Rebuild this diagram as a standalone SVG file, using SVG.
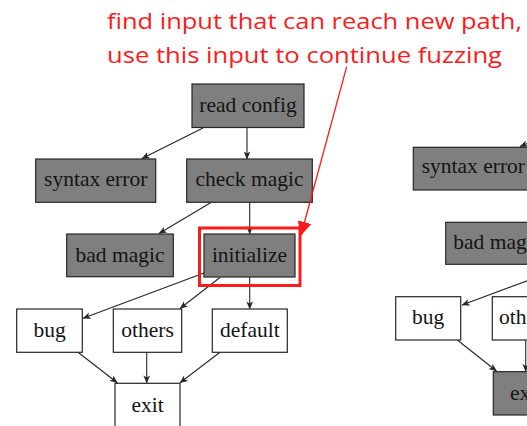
<svg xmlns="http://www.w3.org/2000/svg" width="527" height="426" viewBox="0 0 527 426">
  <style>
    .box rect { stroke: #262626; stroke-width: 1.2; }
    .dark rect { fill: #7f7f7f; }
    .light rect { fill: #ffffff; }
    .box text { font-family: "Liberation Serif", "Times New Roman", serif; font-size: 21.5px; fill: #141414; }
    .mid { text-anchor: middle; }
    .edge { stroke: #262626; stroke-width: 1.1; fill: none; marker-end: url(#arrow); }
    .note { font-family: "Open Sans", "Noto Sans", sans-serif; font-size: 22.5px; fill: #ff1a1a; }
  </style>
  <defs>
    <marker id="arrow" viewBox="0 0 10 10" refX="9.5" refY="5" markerWidth="8" markerHeight="8" markerUnits="userSpaceOnUse" orient="auto">
      <path d="M0,0.8 L10,5 L0,9.2 L2.6,5 Z" fill="#262626"/>
    </marker>
    <marker id="redArrow" viewBox="0 0 10 10" refX="9.5" refY="5" markerWidth="14" markerHeight="14" markerUnits="userSpaceOnUse" orient="auto">
      <path d="M0,0 L10,5 L0,10 Z" fill="#ff1a1a"/>
    </marker>
  </defs>

  <rect width="527" height="426" fill="#ffffff"/>

  <!-- connectors -->
  <g id="connectors">
    <line class="edge" x1="203" y1="128" x2="142" y2="158.5"/>
    <line class="edge" x1="247" y1="128" x2="247" y2="159"/>
    <line class="edge" x1="211" y1="202.5" x2="159" y2="233.5"/>
    <line class="edge" x1="249.7" y1="202.5" x2="249.7" y2="234"/>
    <line class="edge" x1="204" y1="273" x2="83" y2="318.3"/>
    <line class="edge" x1="220" y1="277.5" x2="180" y2="308.5"/>
    <line class="edge" x1="249.7" y1="277" x2="249.7" y2="309"/>
    <line class="edge" x1="78" y1="352.3" x2="117.3" y2="382.8"/>
    <line class="edge" x1="146.7" y1="352.3" x2="146.7" y2="383"/>
    <line class="edge" x1="220" y1="352.3" x2="180" y2="382.8"/>

    <line class="edge" x1="536" y1="140" x2="520" y2="146.5"/>
    <line class="edge" x1="540" y1="276" x2="462" y2="305"/>
    <line class="edge" x1="457.3" y1="340" x2="496.5" y2="371"/>
    <line class="edge" x1="525.7" y1="340" x2="525.7" y2="371.5"/>
  </g>

  <!-- left graph -->
  <g id="read-config" class="box dark">
    <rect x="192" y="84" width="112" height="43.5"/>
    <text class="mid" x="248" y="112">read config</text>
  </g>
  <g id="syntax-error" class="box dark">
    <rect x="35.7" y="159" width="120" height="43.3"/>
    <text class="mid" x="95.7" y="186">syntax error</text>
  </g>
  <g id="check-magic" class="box dark">
    <rect x="186.7" y="159" width="125.6" height="43.3"/>
    <text class="mid" x="249.5" y="186">check magic</text>
  </g>
  <g id="bad-magic" class="box dark">
    <rect x="66.7" y="234" width="106.6" height="42.7"/>
    <text class="mid" x="120" y="261.5">bad magic</text>
  </g>
  <g id="initialize" class="box dark">
    <rect x="204" y="234" width="91" height="43"/>
    <text class="mid" x="249.5" y="261.5">initialize</text>
  </g>
  <g id="bug" class="box light">
    <rect x="16.7" y="309" width="65.6" height="43.3"/>
    <text class="mid" x="49.5" y="336.5">bug</text>
  </g>
  <g id="others" class="box light">
    <rect x="113.3" y="309" width="68.4" height="43.3"/>
    <text class="mid" x="147.5" y="336.5">others</text>
  </g>
  <g id="default" class="box light">
    <rect x="212.3" y="309" width="75" height="43.3"/>
    <text class="mid" x="249.8" y="336.5">default</text>
  </g>
  <g id="exit" class="box light">
    <rect x="115" y="383.3" width="65" height="44"/>
    <text class="mid" x="147.5" y="411.5">exit</text>
  </g>

  <!-- right graph, cut off at the edge -->
  <g id="syntax-error-2" class="box dark">
    <rect x="413.3" y="147.3" width="130" height="42.7"/>
    <text x="421.7" y="173">syntax error</text>
  </g>
  <g id="bad-magic-2" class="box dark">
    <rect x="445.7" y="222.3" width="120" height="42"/>
    <text x="453.3" y="249">bad magic</text>
  </g>
  <g id="bug-2" class="box light">
    <rect x="395.7" y="296.7" width="65" height="43.3"/>
    <text class="mid" x="428.2" y="324">bug</text>
  </g>
  <g id="others-2" class="box light">
    <rect x="492.3" y="296.7" width="70" height="43.3"/>
    <text x="499" y="324">others</text>
  </g>
  <g id="exit-2" class="box dark">
    <rect x="493.3" y="371.7" width="65" height="43.3"/>
    <text x="510" y="399.5">exit</text>
  </g>

  <!-- annotation -->
  <g id="annotation">
    <rect x="199.5" y="228" width="100.5" height="57.5" fill="none" stroke="#ff1a1a" stroke-width="3"/>
    <line x1="346.7" y1="66.7" x2="301" y2="235" stroke="#ff1a1a" stroke-width="1.3" marker-end="url(#redArrow)"/>
    <text class="note" x="107" y="29" textLength="415" lengthAdjust="spacingAndGlyphs">find input that can reach new path,</text>
    <text class="note" x="107" y="63" textLength="395" lengthAdjust="spacingAndGlyphs">use this input to continue fuzzing</text>
  </g>
</svg>
